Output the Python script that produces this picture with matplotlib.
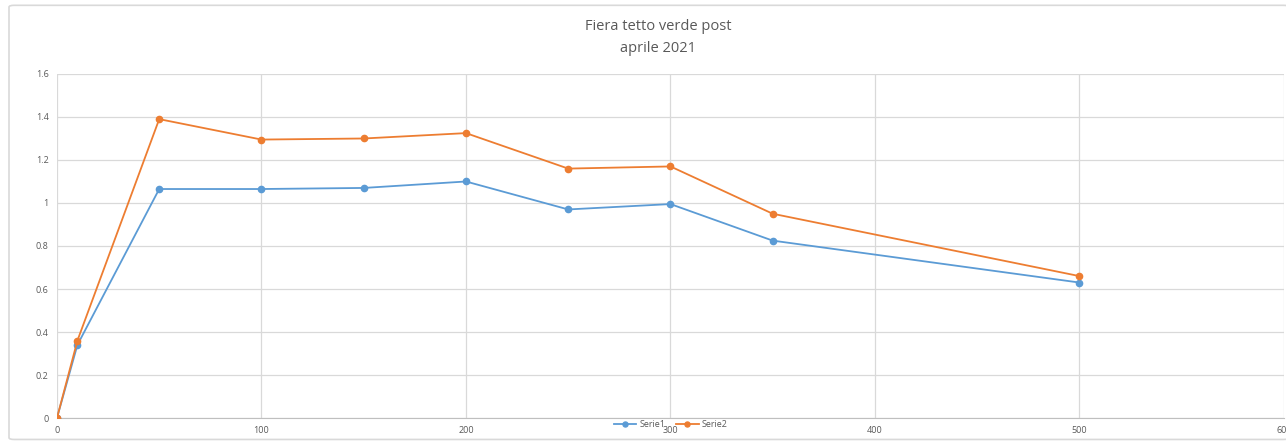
import matplotlib
matplotlib.use("Agg")
import matplotlib.pyplot as plt
from matplotlib.patches import FancyBboxPatch

x = [0, 10, 50, 100, 150, 200, 250, 300, 350, 500]
serie1 = [0, 0.34, 1.065, 1.065, 1.07, 1.10, 0.97, 0.995, 0.825, 0.63]
serie2 = [0, 0.36, 1.39, 1.295, 1.30, 1.325, 1.16, 1.17, 0.95, 0.66]

title = "Fiera tetto verde post\naprile 2021"

plt.rcParams["font.family"] = ["Open Sans", "DejaVu Sans"]

fig = plt.figure(figsize=(12.86, 4.43), dpi=100)

# chart border
fig.patches.append(FancyBboxPatch(
    (0.007, 0.008), 0.995, 0.98,
    boxstyle="round,pad=0,rounding_size=0.004",
    transform=fig.transFigure, facecolor="white",
    edgecolor="#d9d9d9", linewidth=1.2, zorder=-5))

ax = fig.add_axes([0.0443, 0.0564, 0.9541, 0.7766])
ax.set_zorder(2)
ax.set_facecolor("none")

ax.plot(x, serie1, color="#5B9BD5", linewidth=1.3, marker="o",
        markersize=4.5, label="Serie1", zorder=3)
ax.plot(x, serie2, color="#ED7D31", linewidth=1.3, marker="o",
        markersize=4.5, label="Serie2", zorder=3)

ax.set_xlim(0, 600)
ax.set_ylim(0, 1.6)
ax.set_xticks(range(0, 601, 100))
ax.set_yticks([0, 0.2, 0.4, 0.6, 0.8, 1.0, 1.2, 1.4, 1.6])
ax.set_yticklabels(["0", "0.2", "0.4", "0.6", "0.8", "1", "1.2", "1.4", "1.6"])
ax.set_xticklabels(["0", "100", "200", "300", "400", "500", "600"])

ax.grid(True, color="#d9d9d9", linewidth=0.9)
ax.set_axisbelow(True)
for s in ["top", "right", "left"]:
    ax.spines[s].set_visible(False)
ax.spines["bottom"].set_color("#bfbfbf")
ax.tick_params(length=0, labelsize=6.5, labelcolor="#595959", pad=6)

fig.text(0.512, 0.915, title, ha="center", va="center",
         fontsize=10.5, color="#595959", linespacing=1.6)

ax.legend(loc="center", bbox_to_anchor=(0.5, -0.02), ncol=2, frameon=False,
          fontsize=6.5, labelcolor="#595959", handlelength=2.5,
          columnspacing=1.2, handletextpad=0.3, markerscale=0.8)

fig.savefig("out.png", dpi=100)
